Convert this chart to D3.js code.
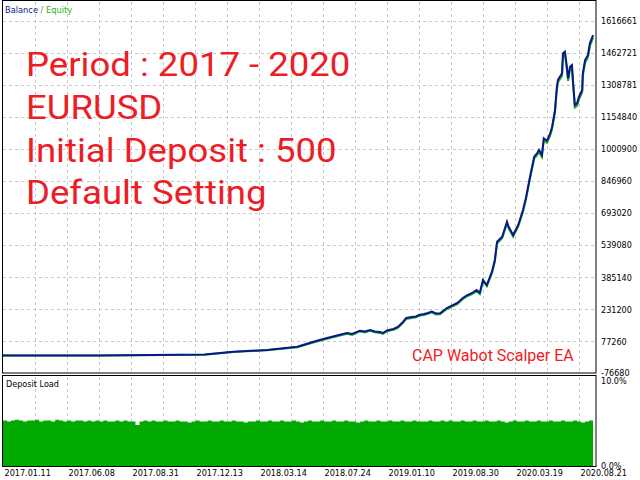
<!DOCTYPE html>
<html>
<head>
<meta charset="utf-8">
<script src="https://cdn.jsdelivr.net/npm/d3@7"></script>
<style>
  body { margin: 0; background: #fff; }
  svg text { font-family: "DejaVu Sans Condensed", "Liberation Sans", sans-serif; }
</style>
</head>
<body>
<div id="chart"></div>
<script>
// trade index (x) and balance / equity
const tradeIdx = [0, 30, 63, 72, 82.5, 92, 97, 101,
  105, 107.5, 109.1, 111.5, 113.1, 114.7, 116.2, 117.8, 118.7, 120,
  122, 123.4, 125, 126, 127.8, 129.1, 130, 131.6, 132.8, 134,
  135.3, 136.6, 138.7, 142, 143.7, 145, 146.6, 148, 149, 150,
  151.2, 152.8, 153.7, 154.4, 156, 157.5, 158, 159.4, 161, 162.5,
  163.4, 164.7, 166, 166.9, 167.5, 168.4, 169, 170, 171, 171.6,
  172.5, 173, 173.4, 174.7, 175, 175.6, 176.2, 176.6, 177.2, 177.8,
  178.1, 178.7, 179.4, 180, 181, 181.2, 181.9, 182.8, 183.4, 184.4];
const balance = [8800, 8800, 13600, 27000, 35200, 51000, 75000, 91400,
  107200, 116900, 112100, 127900, 124100, 131300, 124100, 121700, 116900, 128900,
  136100, 145700, 169700, 188900, 193700, 196100, 203300, 208100, 212900, 220100,
  210500, 211500, 236900, 260900, 284900, 298000, 309000, 323400, 310400, 371400,
  347400, 411200, 467400, 555300, 579300, 651400, 627300, 587500, 635500, 707600,
  765200, 867500, 963500, 979900, 995700, 971700, 1051900, 1040000, 1075900, 1107600,
  1187800, 1283800, 1331900, 1364000, 1460100, 1467700, 1395700, 1340000, 1395700, 1403900,
  1331900, 1211800, 1220000, 1251600, 1283800, 1364000, 1427900, 1451900, 1508100, 1547900];
const equity = [8300, 8300, 12800, 25600, 33900, 48700, 71200, 88100,
  103600, 112600, 107900, 124300, 119900, 127000, 119800, 117400, 112700, 124600,
  131900, 141300, 165200, 183500, 189300, 191800, 199400, 203700, 208500, 215600,
  206000, 206900, 232000, 255700, 279500, 292400, 303600, 317000, 303800, 364800,
  341200, 403500, 459000, 546800, 571600, 643000, 619400, 579900, 627800, 699200,
  756100, 858600, 953900, 970200, 986000, 961900, 1041500, 1030100, 1065400, 1097000,
  1176900, 1272000, 1320600, 1351800, 1448000, 1454600, 1383200, 1328000, 1383000, 1391800,
  1319700, 1199500, 1208000, 1239300, 1271500, 1351200, 1415000, 1439600, 1495000, 1535100];

const yTicks = [-76680, 77260, 231200, 385140, 539080, 693020, 846960, 1000900, 1154840, 1308781, 1462721, 1616661];
const dateLabels = ['2017.01.11', '2017.06.08', '2017.08.31', '2017.12.13', '2018.03.14', '2018.07.24',
  '2019.01.10', '2019.08.30', '2020.03.19', '2020.08.21'];
const dateIdx = [0, 20, 40, 60, 80, 100, 120, 140, 160, 180];
const gridIdx = [10, 20, 30, 40, 50, 60, 70, 80, 90, 100, 110, 120, 130, 140, 150, 160, 170, 180];

// deposit load in percent
const depositLoad = [
  5.1, 5.0, 5.1, 5.2, 5.1, 5.0, 5.1, 5.1, 5.2, 5.0,
  5.1, 5.1, 5.0, 5.2, 5.1, 5.0, 5.1, 5.0, 5.1, 5.1,
  5.0, 5.1, 5.0, 5.1, 5.0, 5.1, 5.0, 5.0, 5.1, 5.0,
  5.1, 5.0, 5.0, 4.6, 5.0, 5.1, 5.0, 5.1, 5.0, 5.0,
  5.1, 5.0, 5.0, 5.1, 5.0, 5.0, 4.9, 5.0, 5.1, 5.0,
  5.0, 5.1, 5.0, 5.0, 5.1, 5.0, 5.0, 5.1, 5.0, 5.0,
  4.9, 5.0, 5.0, 5.1, 5.0, 5.0, 5.1, 5.0, 5.0, 5.1,
  5.0, 5.0, 5.1, 5.0, 4.9, 5.0, 5.1, 5.0, 5.0, 5.1,
  5.0, 5.0, 5.1, 5.0, 5.0, 5.1, 5.0, 5.0, 4.9, 5.0,
  5.1, 5.0, 5.0, 5.1, 5.0, 5.0, 5.1, 5.0, 5.0, 5.1,
  5.0, 5.0, 5.1, 5.0, 5.0, 5.0, 5.1, 5.0, 5.0, 5.1,
  5.0, 5.1, 5.0, 5.0, 5.1, 5.0, 5.0, 5.1, 5.0, 5.0,
  5.1, 5.0, 5.0, 5.1, 5.0, 4.9, 5.0, 5.1, 5.0, 5.0,
  5.1, 5.0, 5.0, 5.1, 5.0, 5.0, 5.1, 5.0, 5.0, 5.1,
  5.0, 5.0, 5.1, 5.0, 4.9, 5.0, 5.1, 5.0];
const loadTicks = [0, 10];

const notes = ['Period : 2017 - 2020', 'EURUSD', 'Initial Deposit : 500', 'Default Setting'];

const svg = d3.select('#chart').append('svg')
  .attr('width', 640).attr('height', 480);
svg.append('rect').attr('width', 640).attr('height', 480).attr('fill', '#fff');

const x = d3.scaleLinear().domain([0, 185]).range([3, 595]);
const y = d3.scaleLinear().domain([-76680, 1616661]).range([373.3, 20.7]);
const yLoad = d3.scaleLinear().domain([0, 10]).range([466, 377]);

const gridColor = '#c8c8c8';
const axisFont = 9;

// main panel grid
const main = svg.append('g');
main.selectAll('line.hgrid')
  .data(yTicks.slice(1))
  .join('line').attr('class', 'hgrid')
  .attr('x1', 3).attr('x2', 596)
  .attr('y1', d => Math.round(y(d)) + 0.5).attr('y2', d => Math.round(y(d)) + 0.5)
  .attr('stroke', gridColor).attr('stroke-dasharray', '3,3');
main.selectAll('line.vgrid')
  .data(gridIdx)
  .join('line').attr('class', 'vgrid')
  .attr('x1', d => Math.round(x(d)) + 0.5).attr('x2', d => Math.round(x(d)) + 0.5)
  .attr('y1', 2).attr('y2', 373)
  .attr('stroke', gridColor).attr('stroke-dasharray', '3,3');

// equity under balance
const line = d3.line().x((d, i) => x(tradeIdx[i])).y(d => y(d));
main.append('path').datum(equity)
  .attr('d', line).attr('fill', 'none')
  .attr('stroke', '#1fb51f').attr('stroke-width', 2);
main.append('path').datum(balance)
  .attr('d', line).attr('fill', 'none')
  .attr('stroke', '#0a168c').attr('stroke-width', 2);

// borders
main.append('rect').attr('x', 2.5).attr('y', 0.5).attr('width', 593.5).attr('height', 372.5)
  .attr('fill', 'none').attr('stroke', '#000');

// right price axis
const yAxis = d3.axisRight(y).tickValues(yTicks).tickSize(0).tickPadding(5).tickFormat(d => d);
const ya = svg.append('g').attr('transform', 'translate(596,0)').call(yAxis);
ya.select('.domain').remove();
ya.selectAll('text').attr('font-size', axisFont).attr('fill', '#000');
ya.selectAll('.tick').filter(d => d === -76680).select('text').attr('dy', '0.2em');

// legend
const legend = svg.append('text').attr('x', 5).attr('y', 13).attr('font-size', 9.2);
legend.append('tspan').text('Balance').attr('fill', '#0a168c');
legend.append('tspan').text(' / ').attr('fill', '#777');
legend.append('tspan').text('Equity').attr('fill', '#1fb51f');

// red notes
const noteG = svg.append('g').attr('transform', 'translate(26,0) scale(1.075,1)');
noteG.selectAll('text.note')
  .data(notes)
  .join('text').attr('class', 'note')
  .attr('x', 0).attr('y', (d, i) => 76 + i * 42.8)
  .text(d => d)
  .attr('fill', '#ee1c25')
  .attr('font-size', 34)
  .style('font-family', 'Roboto, sans-serif');

svg.append('text').attr('x', 412).attr('y', 361)
  .text('CAP Wabot Scalper EA')
  .attr('fill', '#ee1c25').attr('font-size', 16)
  .style('font-family', 'Roboto, sans-serif');

// deposit load panel
const low = svg.append('g');
low.selectAll('line.vgrid')
  .data(gridIdx)
  .join('line').attr('class', 'vgrid')
  .attr('x1', d => Math.round(x(d)) + 0.5).attr('x2', d => Math.round(x(d)) + 0.5)
  .attr('y1', 377).attr('y2', 466)
  .attr('stroke', gridColor).attr('stroke-dasharray', '3,3');

const loadX = d3.scaleLinear().domain([0, depositLoad.length - 1]).range([0, 184.4]);
const area = d3.area()
  .x((d, i) => x(loadX(i)))
  .y0(yLoad(0)).y1(d => yLoad(d))
  .curve(d3.curveStepAfter);
low.append('path').datum(depositLoad)
  .attr('d', area).attr('fill', '#00aa00');

low.append('rect').attr('x', 2.5).attr('y', 375.5).attr('width', 593.5).attr('height', 91)
  .attr('fill', 'none').attr('stroke', '#000');

low.append('text').attr('x', 6).attr('y', 387).text('Deposit Load')
  .attr('font-size', 9).attr('fill', '#000');

const loadAxis = d3.axisRight(yLoad).tickValues(loadTicks).tickSize(0).tickPadding(5)
  .tickFormat(d => d.toFixed(1) + '%');
const la = svg.append('g').attr('transform', 'translate(596,0)').call(loadAxis);
la.select('.domain').remove();
la.selectAll('text').attr('font-size', axisFont).attr('fill', '#000');
la.selectAll('.tick').filter(d => d === 10).select('text').attr('dy', '0.75em');

// date axis
const xAxis = d3.axisBottom(x).tickValues(dateIdx).tickSize(0).tickPadding(3)
  .tickFormat((d, i) => dateLabels[i]);
const xa = svg.append('g').attr('transform', 'translate(0,467)').call(xAxis);
xa.select('.domain').remove();
xa.selectAll('text').attr('font-size', axisFont).attr('fill', '#000')
  .attr('text-anchor', 'start').attr('dx', 1);
</script>
</body>
</html>
